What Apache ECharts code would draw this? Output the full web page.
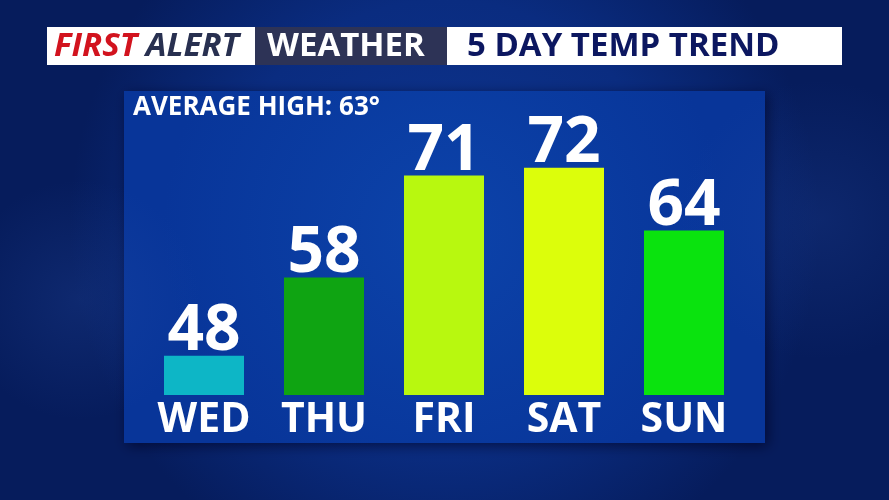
<!DOCTYPE html>
<html>
<head>
<meta charset="utf-8">
<script src="https://cdn.jsdelivr.net/npm/echarts@6/dist/echarts.min.js"></script>
<style>
html,body{margin:0;padding:0;background:#0b2a78;}
#chart{width:889px;height:500px;}
</style>
</head>
<body>
<div id="chart"></div>
<script>
const days = ['WED', 'THU', 'FRI', 'SAT', 'SUN'];
const highs = [48, 58, 71, 72, 64];
const barColors = ['#0db6c6', '#0fa412', '#b8f80f', '#dcfe0b', '#0ae30e'];
const titleLeft = ['FIRST', 'ALERT'];
const titleMid = 'WEATHER';
const titleRight = '5 DAY TEMP TREND';
const averageText = 'AVERAGE HIGH: 63°';

const FONT = '"Open Sans", "Noto Sans", sans-serif';
const chart = echarts.init(document.getElementById('chart'));

chart.setOption({
  animation: false,
  backgroundColor: {
    type: 'radial', x: 0.5, y: 0.45, r: 0.75,
    colorStops: [{offset: 0, color: '#0e3590'}, {offset: 0.6, color: '#0a2c80'}, {offset: 1, color: '#061c5c'}]
  },
  graphic: [
    {type: 'circle', shape: {cx: 80, cy: 300, r: 120}, style: {fill: {type: 'radial', x: 0.5, y: 0.5, r: 0.5, colorStops: [{offset: 0, color: 'rgba(40,80,170,0.25)'}, {offset: 1, color: 'rgba(40,80,170,0)'}]}}, silent: true},
    {type: 'circle', shape: {cx: 820, cy: 220, r: 140}, style: {fill: {type: 'radial', x: 0.5, y: 0.5, r: 0.5, colorStops: [{offset: 0, color: 'rgba(40,80,170,0.22)'}, {offset: 1, color: 'rgba(40,80,170,0)'}]}}, silent: true},
    {type: 'rect', shape: {x: 124, y: 91, width: 641, height: 352}, style: {
      fill: {type: 'radial', x: 0.5, y: 0.4, r: 0.8, colorStops: [{offset: 0, color: '#0c43aa'}, {offset: 1, color: '#083599'}]},
      shadowBlur: 12, shadowColor: 'rgba(0,0,30,0.6)', shadowOffsetX: 3, shadowOffsetY: 3
    }, silent: true, z: -1},
    {type: 'text', left: 133, top: 95, style: {text: averageText, fill: '#ffffff', font: 'bold 26px ' + FONT}, z: 5},
    {type: 'rect', shape: {x: 47, y: 27, width: 795, height: 38}, style: {fill: '#ffffff'}, z: 5},
    {type: 'rect', shape: {x: 255, y: 27, width: 192, height: 38}, style: {fill: '#2d3356'}, z: 6},
    {type: 'text', left: 54, top: 30, style: {rich: {
        r: {fill: '#d2131e', font: 'italic bold 33px ' + FONT},
        n: {fill: '#283050', font: 'italic bold 33px ' + FONT}
      }, text: '{r|' + titleLeft[0] + '}{n| ' + titleLeft[1] + '}'}, z: 7},
    {type: 'text', left: 267, top: 30, style: {text: titleMid, fill: '#ffffff', font: 'bold 33px ' + FONT}, z: 7},
    {type: 'text', left: 467, top: 30, style: {text: titleRight, fill: '#0c1760', font: 'bold 33px ' + FONT}, z: 7}
  ],
  grid: {left: 144, right: 145, top: 105, bottom: 105},
  xAxis: {
    type: 'category', data: days,
    axisLine: {show: false}, axisTick: {show: false},
    axisLabel: {interval: 0, color: '#ffffff', fontFamily: FONT, fontWeight: 'bold', fontSize: 41, lineHeight: 41, margin: 5}
  },
  yAxis: {type: 'value', min: 43, max: 80, show: false, splitLine: {show: false}},
  series: [{
    type: 'bar', barWidth: 80,
    data: highs.map((v, i) => ({value: v, itemStyle: {color: barColors[i]}})),
    label: {show: true, position: 'top', distance: -8, color: '#ffffff', fontFamily: FONT, fontWeight: 'bold', fontSize: 64, lineHeight: 64}
  }]
});
</script>
</body>
</html>
